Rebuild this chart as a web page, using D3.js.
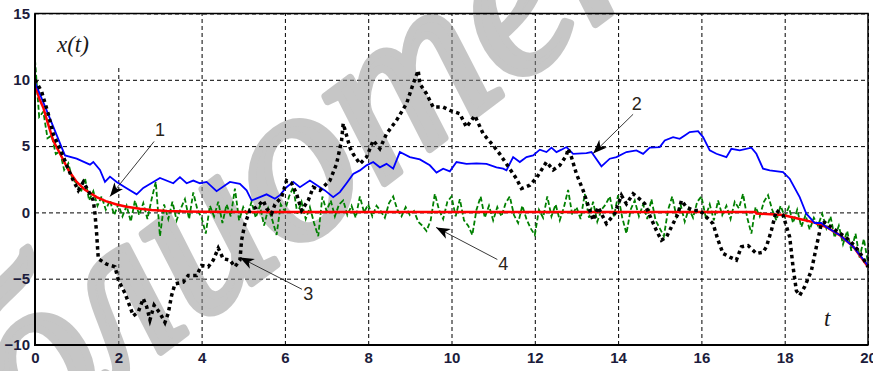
<!DOCTYPE html>
<html>
<head>
<meta charset="utf-8">
<script src="https://cdn.jsdelivr.net/npm/d3@7"></script>
<style>
  body { margin: 0; background: #fff; }
  svg { display: block; }
</style>
</head>
<body>
<div id="chart"></div>
<script>
// curve 1 (red, deterministic)
const redT = [0, 0.1, 0.2, 0.3, 0.44, 0.64, 0.8, 1.0, 1.2, 1.48, 1.7, 1.96, 2.2, 2.52, 2.8, 3.16, 3.6, 4.0, 6, 10, 14, 17.3, 17.32, 17.96, 18.36, 18.68, 19.0, 19.33, 19.65, 20];
const redX = [9.7, 8.6, 7.9, 6.8, 5.4, 4.2, 3.2, 2.3, 1.7, 1.15, 0.85, 0.6, 0.42, 0.28, 0.18, 0.1, 0.06, 0.04, 0.03, 0.03, 0.03, 0.03, -0.08, -0.2, -0.5, -0.73, -1.1, -1.73, -2.6, -4.1];

// curve 2 (blue)
const blueT = [0, 0.28, 0.64, 0.72, 1.0, 1.32, 1.4, 1.56, 1.68, 1.8, 1.96, 2.16, 2.44, 2.6, 2.84, 3.0, 3.32, 3.48, 3.64, 3.8, 3.96, 4.12, 4.36, 4.68, 4.92, 5.08, 5.2, 5.4, 5.56, 5.76, 5.88, 6.04, 6.2, 6.36, 6.6, 6.84, 6.96, 7.16, 7.32, 7.48, 7.64, 7.8, 7.96, 8.12, 8.28, 8.44, 8.6, 8.76, 9.0, 9.24, 9.48, 9.64, 9.8, 9.96, 10.12, 10.36, 10.6, 10.84, 11.08, 11.24, 11.32, 11.48, 11.64, 11.8, 11.96, 12.12, 12.28, 12.4, 12.52, 12.64, 12.76, 12.92, 13.24, 13.36, 13.6, 13.8, 13.96, 14.2, 14.44, 14.6, 14.76, 15.0, 15.12, 15.32, 15.48, 15.6, 15.72, 15.92, 16.04, 16.2, 16.36, 16.6, 16.72, 16.92, 17.2, 17.32, 17.48, 17.64, 17.96, 18.12, 18.36, 18.52, 18.72, 18.88, 19.0, 19.33, 19.65, 20];
const blueX = [9.8, 7.7, 4.9, 4.3, 4.05, 3.6, 3.8, 3.2, 2.3, 2.7, 2.3, 1.9, 1.36, 1.85, 2.3, 2.6, 2.2, 2.66, 2.2, 2.4, 2.2, 2.3, 1.6, 2.3, 2.15, 1.66, 0.9, 1.15, 1.36, 1.03, 1.3, 1.9, 2.3, 1.9, 2.4, 1.9, 1.66, 1.15, 1.53, 2.2, 2.9, 3.17, 3.55, 3.8, 3.4, 3.66, 3.3, 4.55, 4.17, 4.0, 3.55, 3.0, 3.3, 3.1, 3.8, 3.66, 3.7, 3.66, 3.4, 3.3, 3.17, 4.17, 3.8, 4.17, 4.3, 4.73, 4.55, 4.88, 4.55, 4.73, 4.93, 4.42, 4.47, 4.55, 3.47, 4.05, 4.17, 4.55, 4.68, 4.42, 4.88, 4.93, 5.43, 5.68, 5.55, 5.8, 6.06, 6.13, 5.68, 4.68, 4.42, 4.17, 4.8, 4.68, 4.88, 4.42, 3.3, 3.17, 3.04, 2.54, 1.15, -0.1, -0.8, -0.8, -1.1, -1.73, -2.6, -4.0];

// curve 3 (black dotted)
const blackT = [0, 0.16, 0.32, 0.44, 0.68, 0.88, 1.04, 1.16, 1.32, 1.4, 1.44, 1.48, 1.52, 1.72, 1.92, 2.0, 2.16, 2.28, 2.36, 2.48, 2.6, 2.68, 2.76, 2.86, 3.0, 3.12, 3.2, 3.28, 3.36, 3.56, 3.68, 3.88, 4.0, 4.16, 4.28, 4.4, 4.52, 4.68, 4.8, 4.92, 4.96, 5.04, 5.16, 5.32, 5.48, 5.56, 5.68, 5.76, 5.92, 6.04, 6.16, 6.28, 6.4, 6.56, 6.68, 6.84, 7.08, 7.24, 7.36, 7.4, 7.56, 7.64, 7.8, 7.96, 8.12, 8.28, 8.44, 8.68, 8.92, 9.08, 9.2, 9.24, 9.4, 9.56, 9.8, 9.96, 10.2, 10.36, 10.56, 10.76, 11.0, 11.16, 11.56, 11.68, 11.88, 12.04, 12.28, 12.44, 12.6, 12.76, 12.8, 12.88, 13.0, 13.16, 13.28, 13.4, 13.52, 13.72, 13.92, 14.08, 14.2, 14.36, 14.52, 14.64, 14.76, 14.92, 15.04, 15.16, 15.28, 15.44, 15.52, 15.64, 15.8, 15.96, 16.16, 16.28, 16.4, 16.52, 16.68, 16.84, 16.96, 17.12, 17.32, 17.48, 17.56, 17.68, 17.8, 17.96, 18.12, 18.2, 18.28, 18.36, 18.48, 18.64, 18.76, 18.88, 18.96, 19.2, 19.56, 19.8, 20];
const blackX = [10, 9.1, 7.4, 5.9, 4.2, 2.66, 1.66, 2.3, 1.4, 0.9, -0.1, -1.6, -3.5, -3.9, -4.1, -5.1, -6.1, -7.1, -7.8, -7.5, -6.5, -7.1, -8.1, -7.0, -7.6, -8.3, -7.6, -6.26, -5.4, -5.26, -4.75, -4.75, -4.0, -4.1, -3.6, -2.7, -3.5, -3.6, -4.1, -3.6, -2.1, -0.85, 0.15, 0.4, 0.9, 0.3, -0.1, 0.6, 1.15, 2.4, 2.2, 1.4, 0.15, 0.9, 1.9, 1.66, 2.4, 3.66, 5.4, 6.7, 4.9, 4.4, 3.66, 4.17, 5.43, 4.8, 5.93, 6.94, 8.2, 9.7, 10.7, 9.7, 8.95, 7.94, 7.94, 7.7, 7.44, 6.43, 7.3, 5.93, 5.05, 4.4, 2.54, 1.8, 2.05, 2.6, 3.8, 3.2, 3.55, 4.3, 4.8, 4.17, 2.9, 1.66, 0.53, -0.6, 0.4, -0.85, -0.1, 1.28, 0.65, 1.4, 1.0, 0.65, -0.23, -1.36, -2.1, -1.86, -1.1, -0.1, 0.9, 0.4, 0.15, 0.15, -0.48, -0.85, -2.1, -3.1, -3.37, -3.6, -2.6, -2.5, -3.1, -3.0, -2.6, -1.36, 0.15, -0.2, -1.86, -4.1, -5.9, -6.26, -5.6, -4.4, -2.6, -0.85, -0.75, -1.3, -2.1, -3.0, -4.1];

// curve 4 (green dashed), sampled every 0.1 from t = 0
const greenStep = 0.1;
const greenX = [
  11.5, 7.2, 7.6, 5.6, 5.8, 4.4, 4.6, 3.2, 3.7, 2.5,
  2.2, 1.5, 2.6, 0.9, 1.6, 0.5, 1.2, 0.2, 0.9, -0.2,
  0.6, -0.3, 0.5, -0.7, 0.9, -0.2, 0.7, -0.5, 1.0, 2.3,
  -1.8, 0.6, -0.5, 0.8, -0.6, 0.3, 1.0, -0.5, 1.5, 0.2,
  -0.4, -1.6, 0.5, -0.3, 0.8, -0.8, 0.6, -0.3, 1.8, -0.6,
  0.4, -0.2, 0.8, -0.4, 0.5, -1.0, 0.3, -0.6, -1.7, 0.6,
  0.1, 1.2, 1.9, -0.1, 0.8, -0.5, 0.4, -0.8, -1.8, 1.2,
  0.1, 0.9, -0.3, 0.6, 0.9, -0.2, 0.5, -0.4, 1.2, 0.0,
  0.6, -0.3, 0.5, 0.1, -0.4, 0.7, 1.2, 0.2, -0.3, 0.4,
  -0.2, 0.1, -0.7, -1.0, -1.4, -0.6, 1.4, 0.2, -0.5, 0.8,
  1.2, -0.3, 1.0, -0.6, -1.0, -1.7, 0.2, 1.2, -0.4, 0.5,
  -0.6, 0.4, -0.3, 0.7, 1.2, -0.2, -0.8, 0.5, -0.5, -1.2,
  -1.7, 0.2, -0.4, 1.2, -0.3, 0.6, -0.6, 0.4, 1.7, -0.2,
  0.4, -0.5, 1.4, -0.4, 0.8, -0.7, 0.2, 0.6, 1.2, -0.3,
  1.3, -0.4, -1.6, 0.2, 0.9, -0.3, 0.6, -0.5, 1.0, -0.6,
  -1.2, -1.8, 0.2, 1.2, -0.3, 0.6, -0.7, 0.3, -0.4, 0.8,
  1.2, -0.3, 0.6, -0.6, 0.9, -0.2, 0.5, -0.5, 0.8, 0.3,
  1.4, -0.4, -1.6, 0.4, -0.3, 0.8, 1.3, 0.2, -0.6, 0.5,
  -0.3, 0.4, -0.8, 0.2, -1.1, -0.2, -1.3, -0.4, -1.0, -0.1,
  -1.2, -0.3, -1.9, -1.0, -2.4, -1.4, -2.9, -1.6, -3.4, -2.0,
  -3.8
];

const xTicks = [0, 2, 4, 6, 8, 10, 12, 14, 16, 18, 20];
const yTicks = [-10, -5, 0, 5, 10, 15];

// numbered callouts: label position, arrow start, arrow tip (data units)
const callLabels = ["1", "2", "3", "4"];
const callText = [[3.0, 6.2], [14.45, 8.2], [6.56, -6.13], [11.24, -3.87]];
const callFrom = [[2.86, 5.35], [14.36, 7.4], [6.41, -5.8], [11.1, -3.55]];
const callTo = [[1.8, 1.2], [13.4, 4.45], [4.92, -3.4], [9.63, -1.13]];

const width = 873, height = 371;
const margin = { top: 13.5, right: 5, bottom: 26, left: 35 };
const iw = width - margin.left - margin.right;
const ih = height - margin.top - margin.bottom;

const svg = d3.select('#chart').append('svg')
  .attr('width', width)
  .attr('height', height);

const x = d3.scaleLinear().domain([0, 20]).range([margin.left, margin.left + iw]);
const y = d3.scaleLinear().domain([-10, 15]).range([margin.top + ih, margin.top]);

const defs = svg.append('defs');
defs.append('clipPath').attr('id', 'plot')
  .append('rect')
  .attr('x', margin.left).attr('y', margin.top)
  .attr('width', iw).attr('height', ih);
defs.append('marker')
  .attr('id', 'head')
  .attr('viewBox', '-14 -6 16 12')
  .attr('refX', 0).attr('refY', 0)
  .attr('markerWidth', 16).attr('markerHeight', 12)
  .attr('markerUnits', 'userSpaceOnUse')
  .attr('orient', 'auto')
  .append('path')
  .attr('d', 'M0,0 L-14,-5.5 L-10,0 L-14,5.5 Z')
  .attr('fill', '#000');

// grid through the library axes
const gridX = svg.append('g')
  .attr('transform', `translate(0,${margin.top + ih})`)
  .call(d3.axisBottom(x).tickValues(xTicks).tickSize(-ih).tickFormat(''));
const gridY = svg.append('g')
  .attr('transform', `translate(${margin.left},0)`)
  .call(d3.axisLeft(y).tickValues(yTicks).tickSize(-iw).tickFormat(''));
[gridX, gridY].forEach(g => {
  g.select('.domain').remove();
  g.selectAll('line')
    .attr('stroke', '#000')
    .attr('stroke-width', 1)
    .attr('stroke-dasharray', '4,3');
});

// white box behind the x(t) label
svg.append('rect')
  .attr('x', x(0) + 1).attr('y', y(15) + 1)
  .attr('width', x(2.6) - x(0)).attr('height', y(11.1) - y(15))
  .attr('fill', '#fff');

// watermark
svg.append('g')
  .attr('opacity', 0.5)
  .append('text')
  .attr('transform', 'translate(258,182) rotate(-37)')
  .attr('text-anchor', 'middle')
  .attr('dominant-baseline', 'central')
  .style('font-family', '"Liberation Serif", serif')
  .style('font-style', 'italic')
  .style('font-size', '228px')
  .attr('fill', '#8e8e8e')
  .attr('stroke', '#8e8e8e')
  .attr('stroke-width', 8)
  .attr('stroke-linejoin', 'round')
  .text('библиотека');

const line = d3.line().x(d => x(d[0])).y(d => y(d[1]));
const plot = svg.append('g').attr('clip-path', 'url(#plot)');

plot.append('path')
  .attr('d', line(greenX.map((v, i) => [i * greenStep, v])))
  .attr('fill', 'none')
  .attr('stroke', '#008000')
  .attr('stroke-width', 1.8)
  .attr('stroke-dasharray', '5,2.5');

plot.append('path')
  .attr('d', line(redT.map((t, i) => [t, redX[i]])))
  .attr('fill', 'none')
  .attr('stroke', '#ff0000')
  .attr('stroke-width', 2.5);

plot.append('path')
  .attr('d', line(blueT.map((t, i) => [t, blueX[i]])))
  .attr('fill', 'none')
  .attr('stroke', '#0000ff')
  .attr('stroke-width', 1.8);

plot.append('path')
  .attr('d', line(blackT.map((t, i) => [t, blackX[i]])))
  .attr('fill', 'none')
  .attr('stroke', '#000')
  .attr('stroke-width', 3.5)
  .attr('stroke-dasharray', '3.5,3.5');

// frame
svg.append('rect')
  .attr('x', margin.left).attr('y', margin.top)
  .attr('width', iw).attr('height', ih)
  .attr('fill', 'none')
  .attr('stroke', '#000')
  .attr('stroke-width', 1.5);
svg.append('path')
  .attr('d', `M${margin.left},${margin.top} V${margin.top + ih} H${margin.left + iw}`)
  .attr('fill', 'none')
  .attr('stroke', '#000')
  .attr('stroke-width', 2);

// tick labels
const axX = svg.append('g')
  .attr('transform', `translate(0,${margin.top + ih})`)
  .call(d3.axisBottom(x).tickValues(xTicks).tickSize(0).tickPadding(7).tickFormat(d3.format('d')));
const axY = svg.append('g')
  .attr('transform', `translate(${margin.left},0)`)
  .call(d3.axisLeft(y).tickValues(yTicks).tickSize(0).tickPadding(5).tickFormat(d3.format('d')));
[axX, axY].forEach(g => {
  g.select('.domain').remove();
  g.selectAll('text')
    .style('font-family', '"Liberation Sans", Arial, sans-serif')
    .style('font-weight', 'bold')
    .style('font-size', '15px')
    .attr('fill', '#1c1c3c');
});

// callouts
callLabels.forEach((lab, i) => {
  svg.append('line')
    .attr('x1', x(callFrom[i][0])).attr('y1', y(callFrom[i][1]))
    .attr('x2', x(callTo[i][0])).attr('y2', y(callTo[i][1]))
    .attr('stroke', '#222')
    .attr('stroke-width', 0.9)
    .attr('marker-end', 'url(#head)');
  svg.append('text')
    .attr('x', x(callText[i][0])).attr('y', y(callText[i][1]))
    .attr('text-anchor', 'middle')
    .attr('dominant-baseline', 'central')
    .style('font-family', '"Liberation Sans", Arial, sans-serif')
    .style('font-size', '18px')
    .attr('fill', '#2a2418')
    .text(lab);
});

// axis names
svg.append('text')
  .attr('x', 57).attr('y', 52)
  .style('font-family', '"Liberation Serif", "Times New Roman", serif')
  .style('font-style', 'italic')
  .style('font-size', '23px')
  .attr('fill', '#1a1a1a')
  .text('x(t)');
svg.append('text')
  .attr('x', 824).attr('y', 326)
  .style('font-family', '"Liberation Serif", "Times New Roman", serif')
  .style('font-style', 'italic')
  .style('font-size', '23px')
  .attr('fill', '#1a1a1a')
  .text('t');
</script>
</body>
</html>
